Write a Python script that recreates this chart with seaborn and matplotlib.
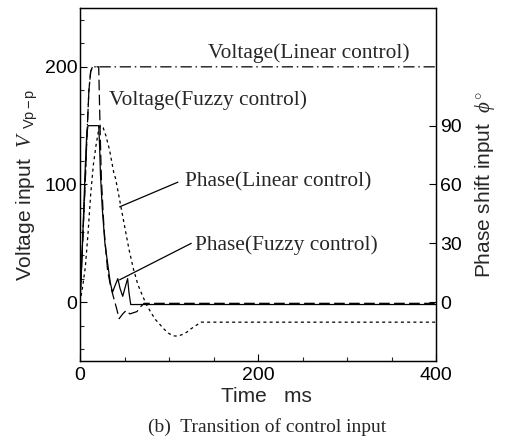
import matplotlib
matplotlib.use("Agg")
import matplotlib.pyplot as plt
import numpy as np
import pandas as pd
import seaborn as sns

# ---------------- data ----------------
# Voltage input, linear control (left axis, V p-p)
t_v_lin = [0, 2, 4, 6, 8, 10, 12, 14, 400]
v_lin = [0, 35, 70, 105, 145, 180, 196, 200, 200]

# Voltage input, fuzzy control (left axis, V p-p)
t_v_fuz = [0, 2, 4, 6, 8, 10, 12, 14, 21, 22.5, 24, 27, 31, 34, 37, 41, 44,
           48, 52, 56, 60, 64, 68, 72, 400]
v_fuz = [0, 35, 70, 105, 145, 180, 196, 200, 200, 150, 105, 62, 27, 15, 6,
         -5, -14, -10, -7, -10, -9, -8, -4, -1, -1]

# Phase shift input, linear control (right axis, degrees)
t_p_lin = [0, 3, 6, 9, 12, 15, 18, 21, 23, 26, 29, 33, 38, 40, 45, 50, 55,
           60, 65, 70, 75, 80, 85, 90, 95, 100, 105, 110, 115, 120, 125, 130,
           136, 400]
p_lin = [0, 8, 18, 35, 55, 70, 80, 88, 90, 89, 85, 78, 66, 63, 51, 39, 27,
         17, 9, 3.5, -1.5, -5.5, -9, -11.5, -14, -16, -17.2, -17.3, -16.5,
         -15.3, -13.5, -12, -10.2, -10.2]

# Phase shift input, fuzzy control (right axis, degrees)
t_p_fuz = [0, 2, 4, 6, 7.5, 9, 21, 22, 23, 25, 28, 31, 34, 36.5, 39, 42.5,
           45, 48, 51, 53.5, 55, 57, 400]
p_fuz = [0, 20, 45, 70, 85, 90, 90, 80, 65, 48, 30, 20, 10, 5, 8, 12, 7, 3,
         8, 12, 5, -1.2, -1.2]

x_ticks = [0, 200, 400]
v_ticks = [0, 100, 200]
p_ticks = [0, 30, 60, 90]

# ---------------- styling ----------------
sns.set_theme(style="ticks")
plt.rcParams["font.family"] = ["Liberation Sans", "DejaVu Sans"]
plt.rcParams["mathtext.fontset"] = "custom"
plt.rcParams["mathtext.rm"] = "Liberation Sans"
plt.rcParams["mathtext.sf"] = "Liberation Sans"
plt.rcParams["mathtext.it"] = "Liberation Serif:italic"

W, H = 507, 446
fig = plt.figure(figsize=(W / 100, H / 100), dpi=100)
fig.patch.set_facecolor("white")
ax = fig.add_axes([80 / W, (H - 361) / H, 356 / W, 353 / H])
ax.set_facecolor("white")
ax2 = ax.twinx()

lw = 0.9
sns.lineplot(x=t_v_lin, y=v_lin, ax=ax, color="black", lw=lw,
             estimator=None, sort=False,
             linestyle=(0, (9, 3, 1.2, 3)))
sns.lineplot(x=t_v_fuz, y=v_fuz, ax=ax, color="black", lw=lw,
             estimator=None, sort=False, linestyle=(0, (8.5, 3.5)))
sns.lineplot(x=t_p_lin, y=p_lin, ax=ax2, color="black", lw=lw,
             estimator=None, sort=False, linestyle=(0, (2.4, 2.6)))
sns.lineplot(x=t_p_fuz, y=p_fuz, ax=ax2, color="black", lw=lw,
             estimator=None, sort=False, linestyle="-")

ax.set_xlim(0, 400)
ax.set_ylim(-50, 250)
ax2.set_ylim(-30, 150)

ax.set_xticks(x_ticks)
ax.set_xticks(np.arange(0, 401, 50), minor=True)
ax.set_yticks(v_ticks)
ax.set_yticks(np.arange(-40, 241, 20), minor=True)
ax2.set_yticks(p_ticks)

ax.tick_params(axis="both", which="major", direction="in", length=5,
               width=0.8, labelsize=14, colors="black")
ax.tick_params(axis="both", which="minor", direction="in", length=3,
               width=0.8)
ax.tick_params(axis="x", pad=4)
ax.tick_params(axis="y", pad=2)
ax2.tick_params(axis="y", which="major", direction="in", length=5,
                width=0.8, labelsize=14, pad=3, colors="black")

for a in (ax, ax2):
    for s in a.spines.values():
        s.set_visible(True)
        s.set_color("black")
        s.set_linewidth(0.9)
    a.grid(False)

ax.set_xlabel("")
ax.set_ylabel(r"Voltage input  $V$ $_{\mathrm{Vp-p}}$",
              fontsize=15, labelpad=3)
ax2.set_ylabel(r"Phase shift input  $\phi^{\circ}$", fontsize=15,
               rotation=90, labelpad=8)

fig.text(266 / W, 1 - 396 / H, "Time   ms", ha="center", va="center",
         fontsize=15)
fig.text(267 / W, 1 - 427 / H, "(b)  Transition of control input",
         ha="center", va="center", fontsize=14, family="Liberation Serif")

serif = dict(fontsize=15.4, family="Liberation Serif", ha="left",
             va="center")
ax.text(143.5, 212, "Voltage(Linear control)", **serif)
ax.text(33, 172, "Voltage(Fuzzy control)", **serif)
ax.text(117.5, 102, "Phase(Linear control)", **serif)
ax.text(129, 48.5, "Phase(Fuzzy control)", **serif)

line_kw = dict(arrowstyle="-", lw=0.9, color="black",
               shrinkA=0, shrinkB=0)
ax.annotate("", xy=(44.5, 81), xytext=(110, 102), arrowprops=line_kw)
ax.annotate("", xy=(44.5, 19), xytext=(125, 50), arrowprops=line_kw)

fig.savefig("out.png", dpi=100, facecolor="white")
